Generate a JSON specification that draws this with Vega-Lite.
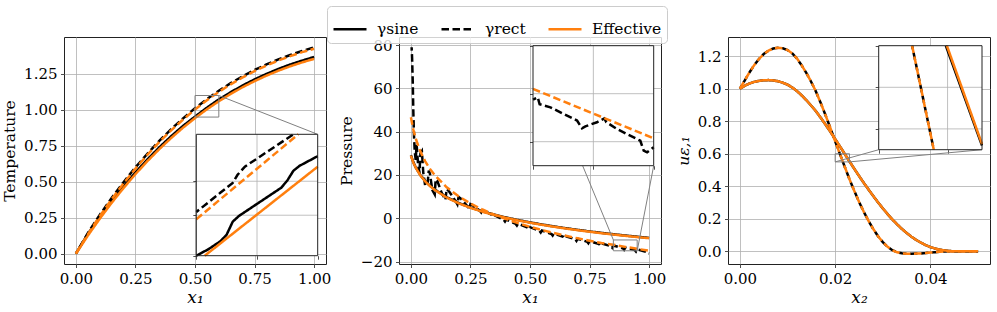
{
"$schema": "https://vega.github.io/schema/vega-lite/v6.json",
"padding": {"left": 2, "top": 5, "right": 4, "bottom": 3},
"bounds": "flush",
"spacing": 73,
"datasets": {
"p1": [
{"s":"sine","x":0,"y":0},{"s":"sine","x":0.05,"y":0.137},{"s":"sine","x":0.1,"y":0.255},{"s":"sine","x":0.15,"y":0.365},{"s":"sine","x":0.2,"y":0.469},{"s":"sine","x":0.25,"y":0.565},{"s":"sine","x":0.3,"y":0.655},{"s":"sine","x":0.35,"y":0.739},{"s":"sine","x":0.4,"y":0.817},{"s":"sine","x":0.45,"y":0.889},{"s":"sine","x":0.5,"y":0.953},{"s":"sine","x":0.55,"y":1.015},{"s":"sine","x":0.6,"y":1.073},{"s":"sine","x":0.65,"y":1.123},{"s":"sine","x":0.7,"y":1.17},{"s":"sine","x":0.75,"y":1.212},{"s":"sine","x":0.8,"y":1.25},{"s":"sine","x":0.85,"y":1.285},{"s":"sine","x":0.9,"y":1.316},{"s":"sine","x":0.95,"y":1.343},{"s":"sine","x":1,"y":1.368},
{"s":"rect","x":0,"y":0},{"s":"rect","x":0.05,"y":0.143},{"s":"rect","x":0.1,"y":0.269},{"s":"rect","x":0.15,"y":0.387},{"s":"rect","x":0.2,"y":0.497},{"s":"rect","x":0.25,"y":0.6},{"s":"rect","x":0.3,"y":0.695},{"s":"rect","x":0.35,"y":0.784},{"s":"rect","x":0.4,"y":0.866},{"s":"rect","x":0.45,"y":0.941},{"s":"rect","x":0.5,"y":1.011},{"s":"rect","x":0.55,"y":1.075},{"s":"rect","x":0.6,"y":1.133},{"s":"rect","x":0.65,"y":1.186},{"s":"rect","x":0.7,"y":1.234},{"s":"rect","x":0.75,"y":1.278},{"s":"rect","x":0.8,"y":1.316},{"s":"rect","x":0.85,"y":1.351},{"s":"rect","x":0.9,"y":1.382},{"s":"rect","x":0.95,"y":1.41},{"s":"rect","x":1,"y":1.434},
{"s":"esine","x":0,"y":0},{"s":"esine","x":0.05,"y":0.1252},{"s":"esine","x":0.1,"y":0.2428},{"s":"esine","x":0.15,"y":0.3532},{"s":"esine","x":0.2,"y":0.4566},{"s":"esine","x":0.25,"y":0.5532},{"s":"esine","x":0.3,"y":0.6432},{"s":"esine","x":0.35,"y":0.727},{"s":"esine","x":0.4,"y":0.8047},{"s":"esine","x":0.45,"y":0.8766},{"s":"esine","x":0.5,"y":0.943},{"s":"esine","x":0.55,"y":1.004},{"s":"esine","x":0.6,"y":1.06},{"s":"esine","x":0.65,"y":1.1112},{"s":"esine","x":0.7,"y":1.1578},{"s":"esine","x":0.75,"y":1.2001},{"s":"esine","x":0.8,"y":1.2383},{"s":"esine","x":0.85,"y":1.2726},{"s":"esine","x":0.9,"y":1.3034},{"s":"esine","x":0.95,"y":1.3307},{"s":"esine","x":1,"y":1.355},
{"s":"erect","x":0,"y":0},{"s":"erect","x":0.05,"y":0.1345},{"s":"erect","x":0.1,"y":0.2605},{"s":"erect","x":0.15,"y":0.3785},{"s":"erect","x":0.2,"y":0.4887},{"s":"erect","x":0.25,"y":0.5915},{"s":"erect","x":0.3,"y":0.687},{"s":"erect","x":0.35,"y":0.7757},{"s":"erect","x":0.4,"y":0.8577},{"s":"erect","x":0.45,"y":0.9333},{"s":"erect","x":0.5,"y":1.0029},{"s":"erect","x":0.55,"y":1.0667},{"s":"erect","x":0.6,"y":1.1249},{"s":"erect","x":0.65,"y":1.178},{"s":"erect","x":0.7,"y":1.226},{"s":"erect","x":0.75,"y":1.2695},{"s":"erect","x":0.8,"y":1.3084},{"s":"erect","x":0.85,"y":1.3432},{"s":"erect","x":0.9,"y":1.3742},{"s":"erect","x":0.95,"y":1.4015},{"s":"erect","x":1,"y":1.4255}
],
"p1i": [
{"s":"sine","x":0.5,"y":0.95},{"s":"sine","x":0.51,"y":0.958},{"s":"sine","x":0.52,"y":0.968},{"s":"sine","x":0.525,"y":0.976},{"s":"sine","x":0.53,"y":0.992},{"s":"sine","x":0.535,"y":0.999},{"s":"sine","x":0.54,"y":1.004},{"s":"sine","x":0.55,"y":1.014},{"s":"sine","x":0.56,"y":1.024},{"s":"sine","x":0.57,"y":1.034},{"s":"sine","x":0.575,"y":1.043},{"s":"sine","x":0.58,"y":1.055},{"s":"sine","x":0.585,"y":1.061},{"s":"sine","x":0.59,"y":1.065},{"s":"sine","x":0.6,"y":1.073},
{"s":"rect","x":0.5,"y":1.004},{"s":"rect","x":0.51,"y":1.016},{"s":"rect","x":0.52,"y":1.028},{"s":"rect","x":0.53,"y":1.04},{"s":"rect","x":0.534,"y":1.05},{"s":"rect","x":0.54,"y":1.06},{"s":"rect","x":0.55,"y":1.07},{"s":"rect","x":0.56,"y":1.08},{"s":"rect","x":0.57,"y":1.09},{"s":"rect","x":0.58,"y":1.1},
{"s":"esine","x":0.507,"y":0.95},{"s":"esine","x":0.6,"y":1.06},
{"s":"erect","x":0.5,"y":0.995},{"s":"erect","x":0.584,"y":1.1}
],
"p2": [
{"s":"sine","x":0,"y":29.1},{"s":"sine","x":0.01,"y":25.95},{"s":"sine","x":0.02,"y":23.55},{"s":"sine","x":0.04,"y":19.9},{"s":"sine","x":0.06,"y":17.2},{"s":"sine","x":0.08,"y":15.05},{"s":"sine","x":0.1,"y":13.25},{"s":"sine","x":0.15,"y":9.75},{"s":"sine","x":0.2,"y":7.1},{"s":"sine","x":0.25,"y":4.98},{"s":"sine","x":0.3,"y":3.21},{"s":"sine","x":0.35,"y":1.69},{"s":"sine","x":0.4,"y":0.36},{"s":"sine","x":0.45,"y":-0.82},{"s":"sine","x":0.5,"y":-1.89},{"s":"sine","x":0.55,"y":-2.86},{"s":"sine","x":0.6,"y":-3.75},{"s":"sine","x":0.65,"y":-4.57},{"s":"sine","x":0.7,"y":-5.34},{"s":"sine","x":0.75,"y":-6.06},{"s":"sine","x":0.8,"y":-6.73},{"s":"sine","x":0.85,"y":-7.35},{"s":"sine","x":0.9,"y":-7.95},{"s":"sine","x":0.95,"y":-8.51},{"s":"sine","x":1,"y":-9.05},
{"s":"rect","x":0.003,"y":79},{"s":"rect","x":0.005,"y":74},{"s":"rect","x":0.008,"y":62},{"s":"rect","x":0.01,"y":50},{"s":"rect","x":0.013,"y":38},{"s":"rect","x":0.016,"y":31},{"s":"rect","x":0.02,"y":27},{"s":"rect","x":0.024,"y":34},{"s":"rect","x":0.03,"y":25},{"s":"rect","x":0.036,"y":21},{"s":"rect","x":0.04,"y":30},{"s":"rect","x":0.046,"y":31},{"s":"rect","x":0.052,"y":21},{"s":"rect","x":0.06,"y":15},{"s":"rect","x":0.07,"y":16},{"s":"rect","x":0.075,"y":22},{"s":"rect","x":0.08,"y":20.5},{"s":"rect","x":0.09,"y":13},{"s":"rect","x":0.1,"y":11},{"s":"rect","x":0.104,"y":18},{"s":"rect","x":0.11,"y":17.5},{"s":"rect","x":0.13,"y":11.5},{"s":"rect","x":0.145,"y":8.5},{"s":"rect","x":0.15,"y":13.5},{"s":"rect","x":0.16,"y":12.5},{"s":"rect","x":0.19,"y":7.5},{"s":"rect","x":0.195,"y":6.5},{"s":"rect","x":0.2,"y":9.8},{"s":"rect","x":0.21,"y":9.0},{"s":"rect","x":0.24,"y":5.2},{"s":"rect","x":0.245,"y":4.4},{"s":"rect","x":0.25,"y":6.6},{"s":"rect","x":0.26,"y":6.0},{"s":"rect","x":0.29,"y":3.4},{"s":"rect","x":0.295,"y":2.7},{"s":"rect","x":0.3,"y":3.9},{"s":"rect","x":0.34,"y":1.6},{"s":"rect","x":0.345,"y":0.9},
{"s":"rect","x":0.35,"y":1.48},{"s":"rect","x":0.39,"y":-0.7},{"s":"rect","x":0.395,"y":-1.5},{"s":"rect","x":0.4,"y":-0.59},{"s":"rect","x":0.44,"y":-2.59},{"s":"rect","x":0.445,"y":-3.36},{"s":"rect","x":0.45,"y":-2.45},{"s":"rect","x":0.49,"y":-4.28},{"s":"rect","x":0.495,"y":-5.04},{"s":"rect","x":0.5,"y":-4.11},{"s":"rect","x":0.54,"y":-5.82},{"s":"rect","x":0.545,"y":-6.57},{"s":"rect","x":0.55,"y":-5.62},{"s":"rect","x":0.59,"y":-7.23},{"s":"rect","x":0.595,"y":-7.96},{"s":"rect","x":0.6,"y":-6.99},{"s":"rect","x":0.64,"y":-8.52},{"s":"rect","x":0.645,"y":-9.25},{"s":"rect","x":0.65,"y":-8.27},{"s":"rect","x":0.69,"y":-9.72},{"s":"rect","x":0.695,"y":-10.44},{"s":"rect","x":0.7,"y":-9.45},{"s":"rect","x":0.74,"y":-10.85},{"s":"rect","x":0.745,"y":-11.55},{"s":"rect","x":0.75,"y":-10.56},{"s":"rect","x":0.79,"y":-11.9},{"s":"rect","x":0.795,"y":-12.6},{"s":"rect","x":0.8,"y":-11.6},{"s":"rect","x":0.84,"y":-12.88},{"s":"rect","x":0.845,"y":-13.58},{"s":"rect","x":0.85,"y":-12.58},{"s":"rect","x":0.89,"y":-13.82},{"s":"rect","x":0.895,"y":-14.51},{"s":"rect","x":0.9,"y":-13.5},{"s":"rect","x":0.94,"y":-14.7},{"s":"rect","x":0.945,"y":-15.38},{"s":"rect","x":0.95,"y":-14.37},{"s":"rect","x":0.99,"y":-15.54},{"s":"rect","x":0.995,"y":-16.2},{"s":"rect","x":1,"y":-16.3},
{"s":"esine","x":0,"y":28.9},{"s":"esine","x":0.01,"y":25.79},{"s":"esine","x":0.02,"y":23.39},{"s":"esine","x":0.04,"y":19.76},{"s":"esine","x":0.06,"y":17.05},{"s":"esine","x":0.08,"y":14.89},{"s":"esine","x":0.1,"y":13.09},{"s":"esine","x":0.15,"y":9.59},{"s":"esine","x":0.2,"y":6.95},{"s":"esine","x":0.25,"y":4.83},{"s":"esine","x":0.3,"y":3.06},{"s":"esine","x":0.35,"y":1.54},{"s":"esine","x":0.4,"y":0.21},{"s":"esine","x":0.45,"y":-0.97},{"s":"esine","x":0.5,"y":-2.04},{"s":"esine","x":0.55,"y":-3.01},{"s":"esine","x":0.6,"y":-3.9},{"s":"esine","x":0.65,"y":-4.72},{"s":"esine","x":0.7,"y":-5.49},{"s":"esine","x":0.75,"y":-6.21},{"s":"esine","x":0.8,"y":-6.88},{"s":"esine","x":0.85,"y":-7.5},{"s":"esine","x":0.9,"y":-8.1},{"s":"esine","x":0.95,"y":-8.66},{"s":"esine","x":1,"y":-9.2},
{"s":"erect","x":0,"y":46.6},{"s":"erect","x":0.01,"y":41.02},{"s":"erect","x":0.02,"y":36.86},{"s":"erect","x":0.04,"y":30.76},{"s":"erect","x":0.06,"y":26.3},{"s":"erect","x":0.08,"y":22.8},{"s":"erect","x":0.1,"y":19.9},{"s":"erect","x":0.15,"y":14.33},{"s":"erect","x":0.2,"y":10.16},{"s":"erect","x":0.25,"y":6.83},{"s":"erect","x":0.3,"y":4.06},{"s":"erect","x":0.35,"y":1.68},{"s":"erect","x":0.4,"y":-0.39},{"s":"erect","x":0.45,"y":-2.25},{"s":"erect","x":0.5,"y":-3.91},{"s":"erect","x":0.55,"y":-5.42},{"s":"erect","x":0.6,"y":-6.79},{"s":"erect","x":0.65,"y":-8.07},{"s":"erect","x":0.7,"y":-9.25},{"s":"erect","x":0.75,"y":-10.36},{"s":"erect","x":0.8,"y":-11.4},{"s":"erect","x":0.85,"y":-12.2},{"s":"erect","x":0.9,"y":-13.2},{"s":"erect","x":0.95,"y":-14.1},{"s":"erect","x":1,"y":-15.0}
],
"p2i": [
{"s":"rect","x":0.85,"y":-12.25},{"s":"rect","x":0.8539,"y":-12.15},{"s":"rect","x":0.8555,"y":-12.44},{"s":"rect","x":0.8644,"y":-12.57},{"s":"rect","x":0.8865,"y":-13.12},{"s":"rect","x":0.8906,"y":-13.44},{"s":"rect","x":0.8934,"y":-13.36},{"s":"rect","x":0.903,"y":-13.19},{"s":"rect","x":0.9091,"y":-13.03},{"s":"rect","x":0.9108,"y":-13.19},{"s":"rect","x":0.9196,"y":-13.47},{"s":"rect","x":0.9389,"y":-13.96},{"s":"rect","x":0.9417,"y":-14.37},{"s":"rect","x":0.9445,"y":-14.44},{"s":"rect","x":0.95,"y":-14.23},
{"s":"erect","x":0.85,"y":-11.8},{"s":"erect","x":0.95,"y":-13.86}
],
"p3": [
{"s":"sine","x":0,"y":1.0},{"s":"sine","x":0.001,"y":1.018},{"s":"sine","x":0.002,"y":1.032},{"s":"sine","x":0.003,"y":1.042},{"s":"sine","x":0.004,"y":1.048},{"s":"sine","x":0.005,"y":1.052},{"s":"sine","x":0.006,"y":1.053},{"s":"sine","x":0.007,"y":1.051},{"s":"sine","x":0.008,"y":1.046},{"s":"sine","x":0.009,"y":1.037},{"s":"sine","x":0.01,"y":1.025},{"s":"sine","x":0.011,"y":1.007},{"s":"sine","x":0.012,"y":0.985},{"s":"sine","x":0.013,"y":0.958},{"s":"sine","x":0.014,"y":0.928},{"s":"sine","x":0.015,"y":0.895},{"s":"sine","x":0.016,"y":0.86},{"s":"sine","x":0.017,"y":0.82},{"s":"sine","x":0.018,"y":0.778},{"s":"sine","x":0.019,"y":0.735},{"s":"sine","x":0.02,"y":0.69},{"s":"sine","x":0.021,"y":0.645},{"s":"sine","x":0.022,"y":0.599},{"s":"sine","x":0.023,"y":0.553},{"s":"sine","x":0.024,"y":0.508},{"s":"sine","x":0.025,"y":0.464},{"s":"sine","x":0.026,"y":0.421},{"s":"sine","x":0.027,"y":0.38},{"s":"sine","x":0.028,"y":0.34},{"s":"sine","x":0.029,"y":0.301},{"s":"sine","x":0.03,"y":0.264},{"s":"sine","x":0.031,"y":0.229},{"s":"sine","x":0.032,"y":0.196},{"s":"sine","x":0.033,"y":0.166},{"s":"sine","x":0.034,"y":0.138},{"s":"sine","x":0.035,"y":0.113},{"s":"sine","x":0.036,"y":0.09},{"s":"sine","x":0.037,"y":0.07},{"s":"sine","x":0.038,"y":0.053},{"s":"sine","x":0.039,"y":0.038},{"s":"sine","x":0.04,"y":0.026},{"s":"sine","x":0.041,"y":0.017},{"s":"sine","x":0.042,"y":0.01},{"s":"sine","x":0.043,"y":0.005},{"s":"sine","x":0.044,"y":0.002},{"s":"sine","x":0.045,"y":0},{"s":"sine","x":0.05,"y":0},
{"s":"rect","x":0,"y":1.0},{"s":"rect","x":0.001,"y":1.05},{"s":"rect","x":0.002,"y":1.1},{"s":"rect","x":0.003,"y":1.145},{"s":"rect","x":0.004,"y":1.183},{"s":"rect","x":0.005,"y":1.213},{"s":"rect","x":0.006,"y":1.234},{"s":"rect","x":0.007,"y":1.247},{"s":"rect","x":0.008,"y":1.252},{"s":"rect","x":0.009,"y":1.249},{"s":"rect","x":0.01,"y":1.238},{"s":"rect","x":0.011,"y":1.217},{"s":"rect","x":0.012,"y":1.185},{"s":"rect","x":0.013,"y":1.142},{"s":"rect","x":0.014,"y":1.094},{"s":"rect","x":0.015,"y":1.04},{"s":"rect","x":0.016,"y":0.98},{"s":"rect","x":0.017,"y":0.91},{"s":"rect","x":0.018,"y":0.835},{"s":"rect","x":0.019,"y":0.757},{"s":"rect","x":0.02,"y":0.677},{"s":"rect","x":0.021,"y":0.598},{"s":"rect","x":0.022,"y":0.52},{"s":"rect","x":0.023,"y":0.444},{"s":"rect","x":0.024,"y":0.372},{"s":"rect","x":0.025,"y":0.305},{"s":"rect","x":0.026,"y":0.243},{"s":"rect","x":0.027,"y":0.187},{"s":"rect","x":0.028,"y":0.137},{"s":"rect","x":0.029,"y":0.093},{"s":"rect","x":0.03,"y":0.057},{"s":"rect","x":0.031,"y":0.028},{"s":"rect","x":0.032,"y":0.007},{"s":"rect","x":0.033,"y":-0.006},{"s":"rect","x":0.034,"y":-0.012},{"s":"rect","x":0.035,"y":-0.015},{"s":"rect","x":0.036,"y":-0.015},{"s":"rect","x":0.037,"y":-0.014},{"s":"rect","x":0.038,"y":-0.013},{"s":"rect","x":0.039,"y":-0.011},{"s":"rect","x":0.04,"y":-0.008},{"s":"rect","x":0.041,"y":-0.005},{"s":"rect","x":0.042,"y":-0.003},{"s":"rect","x":0.043,"y":-0.001},{"s":"rect","x":0.044,"y":0},{"s":"rect","x":0.045,"y":0},{"s":"rect","x":0.05,"y":0},
{"s":"esine","x":0,"y":1.0},{"s":"esine","x":0.001,"y":1.018},{"s":"esine","x":0.002,"y":1.032},{"s":"esine","x":0.003,"y":1.042},{"s":"esine","x":0.004,"y":1.048},{"s":"esine","x":0.005,"y":1.052},{"s":"esine","x":0.006,"y":1.053},{"s":"esine","x":0.007,"y":1.051},{"s":"esine","x":0.008,"y":1.046},{"s":"esine","x":0.009,"y":1.037},{"s":"esine","x":0.01,"y":1.025},{"s":"esine","x":0.011,"y":1.007},{"s":"esine","x":0.012,"y":0.985},{"s":"esine","x":0.013,"y":0.958},{"s":"esine","x":0.014,"y":0.928},{"s":"esine","x":0.015,"y":0.895},{"s":"esine","x":0.016,"y":0.86},{"s":"esine","x":0.017,"y":0.82},{"s":"esine","x":0.018,"y":0.778},{"s":"esine","x":0.019,"y":0.735},{"s":"esine","x":0.02,"y":0.69},{"s":"esine","x":0.021,"y":0.645},{"s":"esine","x":0.022,"y":0.599},{"s":"esine","x":0.023,"y":0.553},{"s":"esine","x":0.024,"y":0.508},{"s":"esine","x":0.025,"y":0.464},{"s":"esine","x":0.026,"y":0.421},{"s":"esine","x":0.027,"y":0.38},{"s":"esine","x":0.028,"y":0.34},{"s":"esine","x":0.029,"y":0.301},{"s":"esine","x":0.03,"y":0.264},{"s":"esine","x":0.031,"y":0.229},{"s":"esine","x":0.032,"y":0.196},{"s":"esine","x":0.033,"y":0.166},{"s":"esine","x":0.034,"y":0.138},{"s":"esine","x":0.035,"y":0.113},{"s":"esine","x":0.036,"y":0.09},{"s":"esine","x":0.037,"y":0.07},{"s":"esine","x":0.038,"y":0.053},{"s":"esine","x":0.039,"y":0.038},{"s":"esine","x":0.04,"y":0.026},{"s":"esine","x":0.041,"y":0.017},{"s":"esine","x":0.042,"y":0.01},{"s":"esine","x":0.043,"y":0.005},{"s":"esine","x":0.044,"y":0.002},{"s":"esine","x":0.045,"y":0},{"s":"esine","x":0.05,"y":0},
{"s":"erect","x":0,"y":1.0},{"s":"erect","x":0.001,"y":1.05},{"s":"erect","x":0.002,"y":1.1},{"s":"erect","x":0.003,"y":1.145},{"s":"erect","x":0.004,"y":1.183},{"s":"erect","x":0.005,"y":1.213},{"s":"erect","x":0.006,"y":1.234},{"s":"erect","x":0.007,"y":1.247},{"s":"erect","x":0.008,"y":1.252},{"s":"erect","x":0.009,"y":1.249},{"s":"erect","x":0.01,"y":1.238},{"s":"erect","x":0.011,"y":1.217},{"s":"erect","x":0.012,"y":1.185},{"s":"erect","x":0.013,"y":1.142},{"s":"erect","x":0.014,"y":1.094},{"s":"erect","x":0.015,"y":1.04},{"s":"erect","x":0.016,"y":0.98},{"s":"erect","x":0.017,"y":0.91},{"s":"erect","x":0.018,"y":0.835},{"s":"erect","x":0.019,"y":0.757},{"s":"erect","x":0.02,"y":0.677},{"s":"erect","x":0.021,"y":0.598},{"s":"erect","x":0.022,"y":0.52},{"s":"erect","x":0.023,"y":0.444},{"s":"erect","x":0.024,"y":0.372},{"s":"erect","x":0.025,"y":0.305},{"s":"erect","x":0.026,"y":0.243},{"s":"erect","x":0.027,"y":0.187},{"s":"erect","x":0.028,"y":0.137},{"s":"erect","x":0.029,"y":0.093},{"s":"erect","x":0.03,"y":0.057},{"s":"erect","x":0.031,"y":0.028},{"s":"erect","x":0.032,"y":0.007},{"s":"erect","x":0.033,"y":-0.006},{"s":"erect","x":0.034,"y":-0.012},{"s":"erect","x":0.035,"y":-0.015},{"s":"erect","x":0.036,"y":-0.015},{"s":"erect","x":0.037,"y":-0.014},{"s":"erect","x":0.038,"y":-0.013},{"s":"erect","x":0.039,"y":-0.011},{"s":"erect","x":0.04,"y":-0.008},{"s":"erect","x":0.041,"y":-0.005},{"s":"erect","x":0.042,"y":-0.003},{"s":"erect","x":0.043,"y":-0.001},{"s":"erect","x":0.044,"y":0},{"s":"erect","x":0.045,"y":0},{"s":"erect","x":0.05,"y":0}
],
"p3i": [
{"s":"sine","x":0.02195,"y":0.6},{"s":"sine","x":0.023,"y":0.552},
{"s":"rect","x":0.02097,"y":0.6},{"s":"rect","x":0.0216,"y":0.55},
{"s":"esine","x":0.02198,"y":0.6},{"s":"esine","x":0.023,"y":0.5527},
{"s":"erect","x":0.02097,"y":0.6},{"s":"erect","x":0.0216,"y":0.55}
]
},
"hconcat": [
{
"width": 262, "height": 227,
"resolve": {"scale": {"x": "independent", "y": "independent"}},
"layer": [
{"data": {"name": "p1"},
 "layer": [
  {"transform": [{"filter": "datum.s == 'sine' || datum.s == 'rect'"}],
   "mark": {"type": "line", "strokeWidth": 2.5, "strokeDashOffset": 4},
   "encoding": {
    "x": {"field": "x", "type": "quantitative", "scale": {"domain": [-0.05, 1.05], "nice": false, "zero": false}, "axis": {"values": [0, 0.25, 0.5, 0.75, 1], "format": ".2f", "title": "x₁", "grid": true}},
    "y": {"field": "y", "type": "quantitative", "scale": {"domain": [-0.072, 1.507], "nice": false, "zero": false}, "axis": {"values": [0, 0.25, 0.5, 0.75, 1, 1.25], "format": ".2f", "title": "Temperature", "grid": true}},
    "color": {"field": "s", "type": "nominal", "scale": {"domain": ["sine", "rect", "esine"], "range": ["#000000", "#000000", "#ff7f0e"]}, "legend": {"title": null, "labelExpr": "datum.value == 'sine' ? 'γsine' : datum.value == 'rect' ? 'γrect' : 'Effective'"}},
    "strokeDash": {"field": "s", "type": "nominal", "scale": {"domain": ["sine", "rect", "esine"], "range": [[1, 0], [7.5, 3.5], [1, 0]]}, "legend": {"title": null, "labelExpr": "datum.value == 'sine' ? 'γsine' : datum.value == 'rect' ? 'γrect' : 'Effective'"}}
   }},
  {"transform": [{"filter": "datum.s == 'esine'"}],
   "mark": {"type": "line", "strokeWidth": 2.5},
   "encoding": {
    "x": {"field": "x", "type": "quantitative"},
    "y": {"field": "y", "type": "quantitative"},
    "color": {"field": "s", "type": "nominal"},
    "strokeDash": {"field": "s", "type": "nominal"}
   }},
  {"transform": [{"filter": "datum.s == 'erect'"}],
   "mark": {"type": "line", "strokeWidth": 2.5, "color": "#ff7f0e", "strokeDash": [7.5, 3.5]},
   "encoding": {"x": {"field": "x", "type": "quantitative"}, "y": {"field": "y", "type": "quantitative"}}},
  {"data": {"values": [{}]},
   "mark": {"type": "rect", "fill": null, "stroke": "#808080", "strokeWidth": 1},
   "encoding": {"x": {"datum": 0.5}, "x2": {"datum": 0.6}, "y": {"datum": 0.95}, "y2": {"datum": 1.1}}},
  {"data": {"values": [{}]},
   "mark": {"type": "rule", "stroke": "#808080", "strokeWidth": 1},
   "encoding": {"x": {"datum": 0.6}, "x2": {"datum": 1.015}, "y": {"datum": 1.1}, "y2": {"datum": 0.83}}}
 ]},
{"data": {"name": "p1i"},
 "layer": [
  {"data": {"values": [{}]},
   "mark": {"type": "rect", "fill": "white", "stroke": null},
   "encoding": {
    "x": {"datum": 0.5, "type": "quantitative", "scale": {"domain": [0.5, 0.6], "range": [132.3, 253.7], "nice": false, "zero": false}, "axis": {"orient": "bottom", "offset": -8.3, "labels": false, "domain": false, "grid": false, "title": null, "values": [0.5, 0.55, 0.6]}},
    "x2": {"datum": 0.6},
    "y": {"datum": 0.95, "type": "quantitative", "scale": {"domain": [0.95, 1.1], "range": [218.7, 97.3], "nice": false, "zero": false}, "axis": {"orient": "left", "offset": -132.3, "labels": false, "domain": false, "grid": false, "title": null, "values": [0.95, 1.0, 1.042]}},
    "y2": {"datum": 1.1}}},
  {"data": {"values": [{"v": 0.55}]},
   "mark": {"type": "rule", "stroke": "#b0b0b0", "strokeWidth": 0.8},
   "encoding": {"x": {"field": "v", "type": "quantitative"}, "y": {"datum": 0.95}, "y2": {"datum": 1.1}}},
  {"data": {"values": [{"v": 1.0}, {"v": 1.042}]},
   "mark": {"type": "rule", "stroke": "#b0b0b0", "strokeWidth": 0.8},
   "encoding": {"y": {"field": "v", "type": "quantitative"}, "x": {"datum": 0.5}, "x2": {"datum": 0.6}}},
  {"transform": [{"filter": "datum.s == 'sine' || datum.s == 'rect'"}],
   "mark": {"type": "line", "strokeWidth": 2.5, "strokeDashOffset": 4},
   "encoding": {"x": {"field": "x", "type": "quantitative"}, "y": {"field": "y", "type": "quantitative"},
    "color": {"field": "s", "type": "nominal"}, "strokeDash": {"field": "s", "type": "nominal"}}},
  {"transform": [{"filter": "datum.s == 'esine'"}],
   "mark": {"type": "line", "strokeWidth": 2.5},
   "encoding": {"x": {"field": "x", "type": "quantitative"}, "y": {"field": "y", "type": "quantitative"},
    "color": {"field": "s", "type": "nominal"}, "strokeDash": {"field": "s", "type": "nominal"}}},
  {"transform": [{"filter": "datum.s == 'erect'"}],
   "mark": {"type": "line", "strokeWidth": 2.5, "color": "#ff7f0e", "strokeDash": [7.5, 3.5]},
   "encoding": {"x": {"field": "x", "type": "quantitative"}, "y": {"field": "y", "type": "quantitative"}}},
  {"data": {"values": [{}]},
   "mark": {"type": "rect", "fill": null, "stroke": "#222222", "strokeWidth": 1},
   "encoding": {"x": {"datum": 0.5}, "x2": {"datum": 0.6}, "y": {"datum": 0.95}, "y2": {"datum": 1.1}}}
 ]}
]
},
{
"hconcat": [
{
"width": 262, "height": 227,
"resolve": {"scale": {"x": "independent", "y": "independent"}},
"layer": [
{"data": {"name": "p2"},
 "layer": [
  {"transform": [{"filter": "datum.s == 'sine' || datum.s == 'rect'"}],
   "mark": {"type": "line", "strokeWidth": 2.5, "strokeDashOffset": 4},
   "encoding": {
    "x": {"field": "x", "type": "quantitative", "scale": {"domain": [-0.05, 1.05], "nice": false, "zero": false}, "axis": {"values": [0, 0.25, 0.5, 0.75, 1], "format": ".2f", "title": "x₁", "grid": true}},
    "y": {"field": "y", "type": "quantitative", "scale": {"domain": [-21.1, 83.7], "nice": false, "zero": false}, "axis": {"values": [-20, 0, 20, 40, 60, 80], "format": "d", "title": "Pressure", "grid": true}},
    "color": {"field": "s", "type": "nominal"},
    "strokeDash": {"field": "s", "type": "nominal"}
   }},
  {"transform": [{"filter": "datum.s == 'esine'"}],
   "mark": {"type": "line", "strokeWidth": 2.5},
   "encoding": {
    "x": {"field": "x", "type": "quantitative"},
    "y": {"field": "y", "type": "quantitative"},
    "color": {"field": "s", "type": "nominal"},
    "strokeDash": {"field": "s", "type": "nominal"}
   }},
  {"transform": [{"filter": "datum.s == 'erect'"}],
   "mark": {"type": "line", "strokeWidth": 2.5, "color": "#ff7f0e", "strokeDash": [7.5, 3.5]},
   "encoding": {"x": {"field": "x", "type": "quantitative"}, "y": {"field": "y", "type": "quantitative"}}},
  {"data": {"values": [{}]},
   "mark": {"type": "rect", "fill": null, "stroke": "#808080", "strokeWidth": 1},
   "encoding": {"x": {"datum": 0.85}, "x2": {"datum": 0.95}, "y": {"datum": -15}, "y2": {"datum": -10}}},
  {"data": {"values": [{}]},
   "mark": {"type": "rule", "stroke": "#808080", "strokeWidth": 1},
   "encoding": {"x": {"datum": 0.85}, "x2": {"datum": 0.5126}, "y": {"datum": -10}, "y2": {"datum": 79.68}}},
  {"data": {"values": [{}]},
   "mark": {"type": "rule", "stroke": "#808080", "strokeWidth": 1},
   "encoding": {"x": {"datum": 0.95}, "x2": {"datum": 1.0194}, "y": {"datum": -15}, "y2": {"datum": 24.28}}}
 ]},
{"data": {"name": "p2i"},
 "layer": [
  {"data": {"values": [{}]},
   "mark": {"type": "rect", "fill": "white", "stroke": null},
   "encoding": {
    "x": {"datum": 0.85, "type": "quantitative", "scale": {"domain": [0.85, 0.95], "range": [134, 254.7], "nice": false, "zero": false}, "axis": {"orient": "bottom", "offset": -98.3, "labels": false, "domain": false, "grid": false, "title": null, "values": [0.85, 0.9, 0.95]}},
    "x2": {"datum": 0.95},
    "y": {"datum": -15, "type": "quantitative", "scale": {"domain": [-15, -10], "range": [128.7, 8.7], "nice": false, "zero": false}, "axis": {"orient": "left", "offset": -134, "labels": false, "domain": false, "grid": false, "title": null, "values": [-14, -12, -10]}},
    "y2": {"datum": -10}}},
  {"data": {"values": [{"v": 0.9}]},
   "mark": {"type": "rule", "stroke": "#b0b0b0", "strokeWidth": 0.8},
   "encoding": {"x": {"field": "v", "type": "quantitative"}, "y": {"datum": -15}, "y2": {"datum": -10}}},
  {"data": {"values": [{"v": -14}, {"v": -12}]},
   "mark": {"type": "rule", "stroke": "#b0b0b0", "strokeWidth": 0.8},
   "encoding": {"y": {"field": "v", "type": "quantitative"}, "x": {"datum": 0.85}, "x2": {"datum": 0.95}}},
  {"transform": [{"filter": "datum.s == 'rect'"}],
   "mark": {"type": "line", "strokeWidth": 2.5, "strokeDashOffset": 4},
   "encoding": {"x": {"field": "x", "type": "quantitative"}, "y": {"field": "y", "type": "quantitative"},
    "color": {"field": "s", "type": "nominal"}, "strokeDash": {"field": "s", "type": "nominal"}}},
  {"transform": [{"filter": "datum.s == 'erect'"}],
   "mark": {"type": "line", "strokeWidth": 2.5, "color": "#ff7f0e", "strokeDash": [7.5, 3.5]},
   "encoding": {"x": {"field": "x", "type": "quantitative"}, "y": {"field": "y", "type": "quantitative"}}},
  {"data": {"values": [{}]},
   "mark": {"type": "rect", "fill": null, "stroke": "#222222", "strokeWidth": 1},
   "encoding": {"x": {"datum": 0.85}, "x2": {"datum": 0.95}, "y": {"datum": -15}, "y2": {"datum": -10}}}
 ]}
]
},
{
"width": 262, "height": 227,
"resolve": {"scale": {"x": "independent", "y": "independent"}},
"layer": [
{"data": {"name": "p3"},
 "layer": [
  {"transform": [{"filter": "datum.s == 'sine' || datum.s == 'rect'"}],
   "mark": {"type": "line", "strokeWidth": 2.5, "strokeDashOffset": 4},
   "encoding": {
    "x": {"field": "x", "type": "quantitative", "scale": {"domain": [-0.0025, 0.0525], "nice": false, "zero": false}, "axis": {"values": [0, 0.02, 0.04], "format": ".2f", "title": "x₂", "grid": true}},
    "y": {"field": "y", "type": "quantitative", "scale": {"domain": [-0.078, 1.318], "nice": false, "zero": false}, "axis": {"values": [0, 0.2, 0.4, 0.6, 0.8, 1.0, 1.2], "format": ".1f", "title": "uε,₁", "titleFontStyle": "italic", "grid": true}},
    "color": {"field": "s", "type": "nominal"},
    "strokeDash": {"field": "s", "type": "nominal"}
   }},
  {"transform": [{"filter": "datum.s == 'esine'"}],
   "mark": {"type": "line", "strokeWidth": 2.5},
   "encoding": {
    "x": {"field": "x", "type": "quantitative"},
    "y": {"field": "y", "type": "quantitative"},
    "color": {"field": "s", "type": "nominal"},
    "strokeDash": {"field": "s", "type": "nominal"}
   }},
  {"transform": [{"filter": "datum.s == 'erect'"}],
   "mark": {"type": "line", "strokeWidth": 2.5, "color": "#ff7f0e", "strokeDash": [7.5, 3.5]},
   "encoding": {"x": {"field": "x", "type": "quantitative"}, "y": {"field": "y", "type": "quantitative"}}},
  {"data": {"values": [{}]},
   "mark": {"type": "rect", "fill": null, "stroke": "#808080", "strokeWidth": 1},
   "encoding": {"x": {"datum": 0.02}, "x2": {"datum": 0.023}, "y": {"datum": 0.55}, "y2": {"datum": 0.6}}},
  {"data": {"values": [{}]},
   "mark": {"type": "rule", "stroke": "#808080", "strokeWidth": 1},
   "encoding": {"x": {"datum": 0.02}, "x2": {"datum": 0.02914}, "y": {"datum": 0.55}, "y2": {"datum": 0.6249}}},
  {"data": {"values": [{}]},
   "mark": {"type": "rule", "stroke": "#808080", "strokeWidth": 1},
   "encoding": {"x": {"datum": 0.023}, "x2": {"datum": 0.05082}, "y": {"datum": 0.55}, "y2": {"datum": 0.6249}}}
 ]},
{"data": {"name": "p3i"},
 "layer": [
  {"data": {"values": [{}]},
   "mark": {"type": "rect", "fill": "white", "stroke": null},
   "encoding": {
    "x": {"datum": 0.02, "type": "quantitative", "scale": {"domain": [0.02, 0.023], "range": [150.7, 254], "nice": false, "zero": false}, "axis": {"orient": "bottom", "offset": -114.3, "labels": false, "domain": false, "grid": false, "title": null, "values": [0.02, 0.022]}},
    "x2": {"datum": 0.023},
    "y": {"datum": 0.55, "type": "quantitative", "scale": {"domain": [0.55, 0.6], "range": [112.7, 8.7], "nice": false, "zero": false}, "axis": {"orient": "left", "offset": -150.7, "labels": false, "domain": false, "grid": false, "title": null, "values": [0.56, 0.58, 0.6]}},
    "y2": {"datum": 0.6}}},
  {"data": {"values": [{"v": 0.022}]},
   "mark": {"type": "rule", "stroke": "#b0b0b0", "strokeWidth": 0.8},
   "encoding": {"x": {"field": "v", "type": "quantitative"}, "y": {"datum": 0.55}, "y2": {"datum": 0.6}}},
  {"data": {"values": [{"v": 0.56}, {"v": 0.58}]},
   "mark": {"type": "rule", "stroke": "#b0b0b0", "strokeWidth": 0.8},
   "encoding": {"y": {"field": "v", "type": "quantitative"}, "x": {"datum": 0.02}, "x2": {"datum": 0.023}}},
  {"transform": [{"filter": "datum.s == 'sine' || datum.s == 'rect'"}],
   "mark": {"type": "line", "strokeWidth": 2.5, "strokeDashOffset": 4},
   "encoding": {"x": {"field": "x", "type": "quantitative"}, "y": {"field": "y", "type": "quantitative"},
    "color": {"field": "s", "type": "nominal"}, "strokeDash": {"field": "s", "type": "nominal"}}},
  {"transform": [{"filter": "datum.s == 'esine'"}],
   "mark": {"type": "line", "strokeWidth": 2.5},
   "encoding": {"x": {"field": "x", "type": "quantitative"}, "y": {"field": "y", "type": "quantitative"},
    "color": {"field": "s", "type": "nominal"}, "strokeDash": {"field": "s", "type": "nominal"}}},
  {"transform": [{"filter": "datum.s == 'erect'"}],
   "mark": {"type": "line", "strokeWidth": 2.5, "color": "#ff7f0e", "strokeDash": [7.5, 3.5]},
   "encoding": {"x": {"field": "x", "type": "quantitative"}, "y": {"field": "y", "type": "quantitative"}}},
  {"data": {"values": [{}]},
   "mark": {"type": "rect", "fill": null, "stroke": "#222222", "strokeWidth": 1},
   "encoding": {"x": {"datum": 0.02}, "x2": {"datum": 0.023}, "y": {"datum": 0.55}, "y2": {"datum": 0.6}}}
 ]}
]
}
],
"spacing": 67,
"bounds": "flush"
}
],
"config": {
"view": {"stroke": "#222222", "strokeWidth": 1},
"axis": {"gridColor": "#b0b0b0", "gridWidth": 0.8, "domain": false, "tickColor": "#222222", "tickSize": 3.5, "tickWidth": 0.8, "tickCount": 20, "labelFont": "DejaVu Serif", "labelFontSize": 15, "labelColor": "#000000", "labelPadding": 3.5, "titleFont": "DejaVu Serif", "titleFontSize": 15.5, "titleFontWeight": "normal", "titleColor": "#000000", "labelFlush": false, "labelOverlap": false},
"axisY": {"titlePadding": 6},
"axisX": {"titlePadding": 3, "titleFontSize": 17, "titleFontStyle": "italic"},
"legend": {"orient": "none", "legendX": 263, "legendY": -31, "direction": "horizontal", "columns": 3, "symbolType": "stroke", "symbolSize": 1089, "symbolStrokeWidth": 2.5, "labelFont": "DejaVu Serif", "labelFontSize": 15.5, "labelColor": "#000000", "labelOffset": 9, "columnPadding": 17, "padding": 5, "fillColor": "rgba(255,255,255,0.8)", "strokeColor": "#cccccc", "cornerRadius": 4}
}
}
